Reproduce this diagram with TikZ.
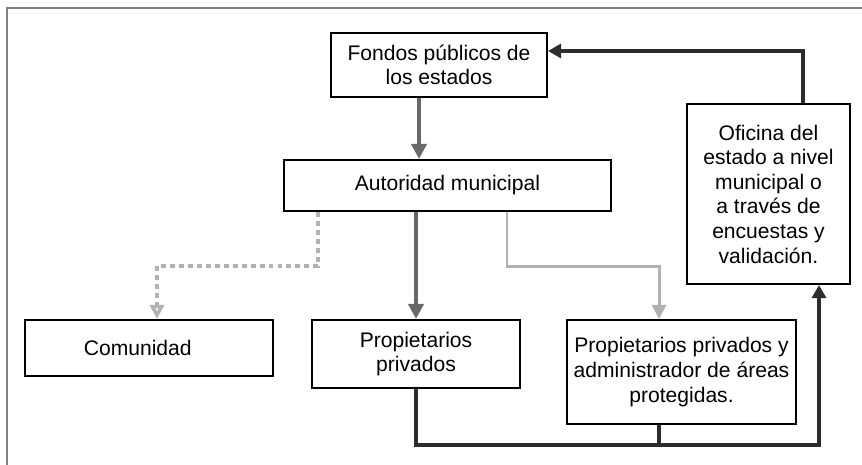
\documentclass[tikz,border=0pt]{standalone}
\usepackage{fontspec}
\setmainfont{Liberation Sans}
\usepackage{tikz}
\usetikzlibrary{arrows.meta}

\definecolor{darkgray}{RGB}{105,105,105}
\definecolor{lightgray}{RGB}{178,178,178}
\definecolor{nearblack}{RGB}{45,45,45}

\tikzset{
  box/.style={draw, line width=1.2pt, align=center, inner sep=2pt,
    font=\fontsize{12}{14}\selectfont},
  darkarrow/.style={draw=darkgray, line width=2.2pt,
    -{Triangle[length=0.3cm, width=0.3cm]}},
  lightarrow/.style={draw=lightgray, line width=1.7pt,
    -{Triangle[length=0.28cm, width=0.28cm]}},
  dotarrow/.style={draw=lightgray, line width=2.2pt, dash pattern=on 2.8pt off 2.3pt,
    -{Triangle[open, length=0.28cm, width=0.28cm]}},
  blackarrow/.style={draw=nearblack, line width=2pt,
    -{Triangle[length=0.26cm, width=0.28cm]}},
  blackline/.style={draw=nearblack, line width=2pt},
}

\begin{document}
\begin{tikzpicture}[x=0.02cm, y=-0.02cm]

\useasboundingbox (0,0) rectangle (862,465);

% frame
\draw[gray, line width=0.6pt] (7,465) -- (7,8) -- (862,8);

% top nodes
\node[box, minimum width=4.32cm, minimum height=1.28cm] (fondos) at (439,65) {Fondos públicos de\\los estados};
\node[box, minimum width=6.54cm, minimum height=1.02cm] (autoridad) at (447.5,185.5) {Autoridad municipal};
\node[box, minimum width=3.26cm, minimum height=3.6cm] (oficina) at (768.5,194) {Oficina del\\estado a nivel\\municipal o\\a través de\\encuestas y\\validación.};

% bottom nodes
\node[box, minimum width=4.96cm, minimum height=1.12cm] (comunidad) at (149,348) {Comunidad\hspace*{0.45cm}};
\node[box, minimum width=4.16cm, minimum height=1.36cm] (propietarios) at (416,354) {Propietarios\\privados};
\node[box, minimum width=4.58cm, minimum height=2.08cm] (areas) at (681.5,372) {Propietarios privados y\\administrador de áreas\\protegidas.};

% arrows
\draw[darkarrow] ([xshift=-0.4cm]fondos.south) -- ([xshift=-0.4cm]fondos.south |- autoridad.north);
\draw[dotarrow] ([xshift=-2.59cm]autoridad.south) -- ++(0,54) -| ([xshift=0.16cm]comunidad.north);
\draw[darkarrow] (autoridad.south -| propietarios.north) -- (propietarios.north);
\draw[lightarrow] ([xshift=1.19cm]autoridad.south) -- ++(0,54) -| ([xshift=-0.45cm]areas.north);

% feedback
\draw[blackline] ([xshift=-0.45cm]areas.south) -- ++(0,20);
\draw[blackarrow] (propietarios.south) -- ++(0,56) -| ([xshift=1.01cm]oficina.south);
\draw[blackarrow] ([xshift=0.69cm]oficina.north) |- ([yshift=0.28cm]fondos.east);

\end{tikzpicture}
\end{document}
